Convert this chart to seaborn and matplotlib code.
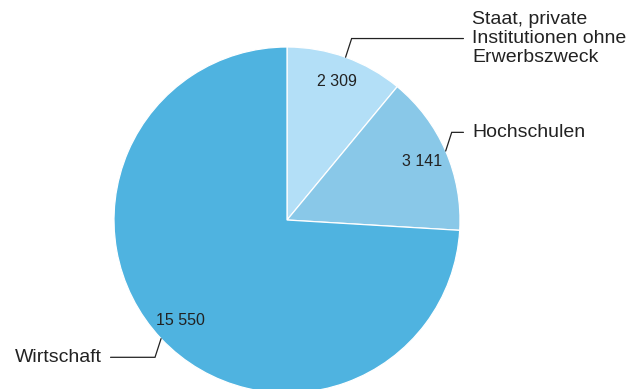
import numpy as np
import matplotlib
matplotlib.use('Agg')
import matplotlib.pyplot as plt
import seaborn as sns

# Forschung und Entwicklung nach Sektor
categories = ['Staat, private\nInstitutionen ohne\nErwerbszweck', 'Hochschulen', 'Wirtschaft']
values = [2309, 3141, 15550]
colors = ['#b3dff7', '#89c8e8', '#4fb3e0']

sns.set_theme(style='white')
plt.rcParams['font.family'] = ['Liberation Sans', 'DejaVu Sans']

W, H = 630, 389
fig = plt.figure(figsize=(W / 100, H / 100), dpi=100)
# pie centre at (287, 220) px, radius 173 px
cx, cy, r = 287, 220, 173
ax = fig.add_axes([(cx - r) / W, (H - cy - r) / H, 2 * r / W, 2 * r / H])

def fmt(v):
    return f'{v:,}'.replace(',', ' ')

wedges, _, autotexts = ax.pie(
    values, colors=colors, startangle=90, counterclock=False,
    autopct=lambda p: fmt(int(round(p * sum(values) / 100))),
    pctdistance=0.85, radius=1,
    wedgeprops=dict(edgecolor='white', linewidth=0.9),
    textprops=dict(fontsize=11.5, color='#222222'))
ax.set_xlim(-1, 1)
ax.set_ylim(-1, 1)
ax.set_aspect('equal')
ax.axis('off')

# leader lines from the wedge midpoints
for w, cat in zip(wedges, categories):
    ang = np.deg2rad((w.theta1 + w.theta2) / 2)
    x0, y0 = np.cos(ang), np.sin(ang)
    side = 1 if x0 > 0 else -1
    up = 1 if y0 > 0 else -1
    x1, y1 = x0 + side * 0.035, y0 + up * 0.108
    x2 = side * 1.02
    ax.plot([x0, x1, x2], [y0, y1, y1], color='#222222', lw=0.9,
            clip_on=False, solid_joinstyle='miter')
    ax.text(side * 1.07, y1, cat, ha='left' if side > 0 else 'right',
            va='center', fontsize=14, color='#222222', linespacing=1.12,
            clip_on=False)

fig.savefig('out.png', dpi=100)
